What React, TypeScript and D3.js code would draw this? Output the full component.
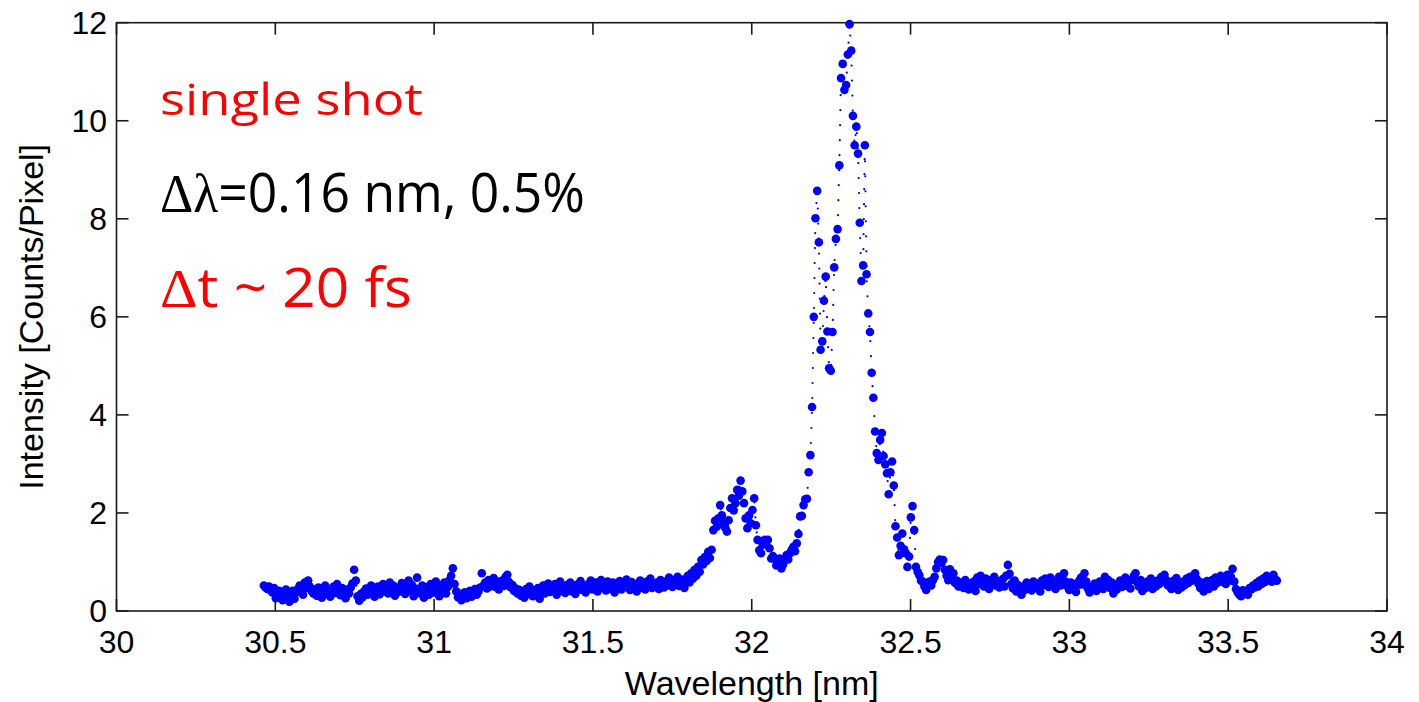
import React from 'react';
import * as d3 from 'd3';

// Sampling grid of the spectrometer (nm)
const wavelengthStart = 30.464;
const wavelengthStep = 0.00536;

// Intensity [Counts/Pixel], in order of wavelength
const intensityLeftBase: number[] = [
  0.52, 0.48, 0.45, 0.50, 0.42, 0.38, 0.47, 0.26, 0.33, 0.41,
  0.30, 0.22, 0.36, 0.44, 0.28, 0.19, 0.35, 0.41, 0.25, 0.38,
  0.45, 0.52, 0.40, 0.33, 0.58, 0.47, 0.62, 0.50, 0.41, 0.36,
  0.44, 0.31, 0.48, 0.38, 0.27, 0.42, 0.52, 0.35, 0.45, 0.29,
  0.40, 0.50, 0.37, 0.55, 0.43, 0.32, 0.47, 0.39, 0.26, 0.44,
  0.36, 0.48, 0.56, 0.84, 0.62, 0.30, 0.21, 0.35, 0.28, 0.40,
  0.46, 0.33, 0.41, 0.52, 0.37, 0.29, 0.45, 0.50, 0.34, 0.42,
  0.55, 0.40, 0.48, 0.36, 0.58, 0.44, 0.52, 0.31, 0.47, 0.39,
  0.49, 0.57, 0.43, 0.35, 0.50, 0.62, 0.41, 0.53, 0.30, 0.46,
  0.68, 0.40, 0.36, 0.52, 0.27, 0.44, 0.49, 0.33, 0.55, 0.42,
  0.38, 0.60, 0.45, 0.30, 0.52, 0.41, 0.58, 0.36, 0.49, 0.63,
  0.72, 0.87, 0.55, 0.40, 0.28, 0.35, 0.22, 0.31, 0.38, 0.26,
  0.34, 0.41, 0.29, 0.37, 0.45, 0.33, 0.40, 0.48, 0.77, 0.52,
  0.58, 0.46, 0.63, 0.50, 0.55, 0.67, 0.49, 0.60, 0.44, 0.57,
  0.62, 0.51, 0.70, 0.74, 0.59, 0.48, 0.53, 0.41, 0.46, 0.36,
  0.43, 0.31, 0.39, 0.27, 0.45, 0.35, 0.50, 0.38, 0.30, 0.42,
  0.34, 0.47, 0.25, 0.40, 0.52, 0.36, 0.44, 0.56, 0.39, 0.48,
  0.42, 0.55, 0.33, 0.46, 0.60, 0.41, 0.50, 0.37, 0.53, 0.45,
  0.58, 0.40, 0.49, 0.35, 0.54, 0.46, 0.61, 0.43, 0.52, 0.38,
  0.47, 0.56, 0.62, 0.44, 0.51, 0.58, 0.40, 0.53, 0.63, 0.48,
  0.55, 0.42, 0.60, 0.50, 0.45, 0.58, 0.38, 0.52, 0.47, 0.61,
  0.44, 0.56, 0.49, 0.64, 0.51, 0.43, 0.59, 0.46, 0.55, 0.40,
  0.53, 0.62, 0.48, 0.57, 0.44, 0.60, 0.52, 0.66, 0.47, 0.55,
  0.50, 0.58, 0.45, 0.63, 0.54, 0.48, 0.60, 0.52, 0.68, 0.56,
  0.49, 0.62, 0.55, 0.70, 0.51, 0.58, 0.64, 0.47, 0.60, 0.72,
];

const intensitySidePeak: number[] = [
  0.58, 0.77, 0.66, 0.84, 0.72, 0.90, 0.80, 1.04, 0.95, 1.10,
  1.02, 1.21, 1.08, 1.25, 1.65, 1.84, 1.72, 1.89, 2.16, 1.95,
  1.79, 1.70, 1.62, 1.85, 2.10, 2.30, 2.05, 2.20, 2.47, 2.35,
  2.66, 2.44, 2.20, 1.89, 1.69, 1.95, 1.79, 2.06, 2.30, 1.75,
  1.45, 1.24, 1.18, 1.35, 1.45, 1.40, 1.45, 1.28, 1.07, 1.12,
  1.07, 0.93, 0.97, 1.07, 0.87, 0.95, 1.05, 1.14, 1.05, 1.18,
  1.25, 1.31, 1.22, 1.38, 1.57, 1.93, 1.94, 2.16, 2.28, 2.29,
];

const intensityMainPeak: number[] = [
  2.83, 3.18, 4.16, 6.00, 8.01, 8.57, 7.52, 5.33, 5.50, 6.33,
  6.82, 5.70, 4.95, 4.90, 5.69, 7.01, 7.59, 7.79, 9.09, 10.87,
  11.16, 10.63, 10.73, 11.35, 11.97, 11.43, 10.10, 9.50, 9.88, 9.33,
  7.92, 6.73, 7.05, 9.50, 6.87, 6.07, 5.69, 4.86, 4.35, 3.66,
  3.22, 3.08, 3.49, 3.63, 3.16, 2.99, 2.81, 2.38, 2.83, 3.05,
  2.56, 1.73, 1.50, 1.14, 1.33, 1.58, 1.26, 1.18, 0.90, 1.11,
  1.91, 2.14, 1.65, 0.90, 0.80, 0.73, 0.62, 0.60, 0.50, 0.43,
  0.55, 0.60, 0.52, 0.63, 0.70, 0.87, 1.00, 1.05, 0.98, 1.04,
  0.84, 0.72, 0.63, 0.85, 0.70, 0.77, 0.57, 0.62, 0.50, 0.55,
];

const intensityRightBase: number[] = [
  0.58, 0.47, 0.63, 0.52, 0.44, 0.56, 0.49, 0.60, 0.41, 0.68,
  0.55, 0.72, 0.61, 0.50, 0.66, 0.58, 0.45, 0.63, 0.54, 0.70,
  0.52, 0.60, 0.48, 0.57, 0.65, 0.50, 0.72, 0.94, 0.76, 0.55,
  0.46, 0.62, 0.40, 0.53, 0.45, 0.33, 0.50, 0.43, 0.58, 0.48,
  0.55, 0.42, 0.60, 0.51, 0.47, 0.56, 0.40, 0.62, 0.53, 0.66,
  0.58, 0.49, 0.68, 0.55, 0.61, 0.45, 0.57, 0.70, 0.52, 0.64,
  0.77, 0.60, 0.50, 0.43, 0.58, 0.47, 0.55, 0.39, 0.52, 0.62,
  0.68, 0.54, 0.77, 0.60, 0.46, 0.38, 0.50, 0.44, 0.56, 0.41,
  0.48, 0.60, 0.52, 0.45, 0.70, 0.55, 0.63, 0.47, 0.58, 0.36,
  0.50, 0.44, 0.57, 0.62, 0.49, 0.55, 0.68, 0.51, 0.60, 0.46,
  0.64, 0.72, 0.77, 0.58, 0.50, 0.63, 0.41, 0.55, 0.47, 0.60,
  0.52, 0.66, 0.45, 0.58, 0.50, 0.62, 0.55, 0.69, 0.60, 0.74,
  0.63, 0.52, 0.58, 0.45, 0.61, 0.50, 0.67, 0.43, 0.56, 0.48,
  0.60, 0.53, 0.66, 0.57, 0.70, 0.62, 0.72, 0.77, 0.65, 0.55,
  0.47, 0.58, 0.40, 0.52, 0.61, 0.45, 0.56, 0.63, 0.50, 0.68,
  0.57, 0.65, 0.72, 0.60, 0.68, 0.55, 0.74, 0.62, 0.70, 0.86,
  0.60, 0.45, 0.38, 0.33, 0.30, 0.42, 0.36, 0.40, 0.33, 0.47,
  0.44, 0.52, 0.48, 0.57, 0.50, 0.62, 0.55, 0.66, 0.59, 0.72,
  0.63, 0.68, 0.60, 0.74, 0.65, 0.62,
];

const intensity: number[] = [
  ...intensityLeftBase,
  ...intensitySidePeak,
  ...intensityMainPeak,
  ...intensityRightBase,
];

const xTicks = [30, 30.5, 31, 31.5, 32, 32.5, 33, 33.5, 34];
const yTicks = [0, 2, 4, 6, 8, 10, 12];
const xDomain: [number, number] = [30, 34];
const yDomain: [number, number] = [0, 12];

const xLabel = 'Wavelength [nm]';
const yLabel = 'Intensity [Counts/Pixel]';

const W = 1419;
const H = 702;
const margin = { left: 116.5, right: W - 1387, top: 22.7, bottom: H - 611 };

const axisFont = "'Liberation Sans', Arial, Helvetica, sans-serif";
const comicFont = "'Comic Sans MS', 'Open Sans', sans-serif";
const greekFont = "'Liberation Serif', 'DejaVu Serif', serif";

export default function App() {
  const x = d3.scaleLinear().domain(xDomain).range([margin.left, W - margin.right]);
  const y = d3.scaleLinear().domain(yDomain).range([H - margin.bottom, margin.top]);

  const points = intensity.map((v, i) => ({ wl: wavelengthStart + i * wavelengthStep, v }));
  const line = d3
    .line<{ wl: number; v: number }>()
    .x((d) => x(d.wl))
    .y((d) => y(d.v));

  const x0 = x(xDomain[0]);
  const x1 = x(xDomain[1]);
  const y0 = y(yDomain[0]);
  const y1 = y(yDomain[1]);
  const tickLen = 12;
  const axisColor = '#1a1a1a';

  return (
    <svg
      width={W}
      height={H}
      style={{ position: 'absolute', left: 0, top: 0, background: '#fff' }}
    >
      <rect x={0} y={0} width={W} height={H} fill="#fff" />
      {/* axes box */}
      <rect x={x0} y={y1} width={x1 - x0} height={y0 - y1} fill="none" stroke={axisColor} strokeWidth={1.6} />
      {/* x ticks */}
      {xTicks.map((t) => (
        <g key={'xt' + t}>
          <line x1={x(t)} x2={x(t)} y1={y0} y2={y0 - tickLen} stroke={axisColor} strokeWidth={1.6} />
          <line x1={x(t)} x2={x(t)} y1={y1} y2={y1 + tickLen} stroke={axisColor} strokeWidth={1.6} />
          <text
            x={x(t)}
            y={652.5}
            textAnchor="middle"
            fontFamily={axisFont}
            fontSize={32}
            fill="#000"
          >
            {String(t)}
          </text>
        </g>
      ))}
      {/* y ticks */}
      {yTicks.map((t) => (
        <g key={'yt' + t}>
          <line x1={x0} x2={x0 + tickLen} y1={y(t)} y2={y(t)} stroke={axisColor} strokeWidth={1.6} />
          <line x1={x1} x2={x1 - tickLen} y1={y(t)} y2={y(t)} stroke={axisColor} strokeWidth={1.6} />
          <text
            x={107}
            y={y(t) + 11.4}
            textAnchor="end"
            fontFamily={axisFont}
            fontSize={32}
            fill="#000"
          >
            {String(t)}
          </text>
        </g>
      ))}
      {/* axis labels */}
      <text
        x={(x0 + x1) / 2}
        y={695}
        textAnchor="middle"
        fontFamily={axisFont}
        fontSize={34}
        fill="#000"
      >
        {xLabel}
      </text>
      <text
        transform={`translate(43.3, ${(y0 + y1) / 2}) rotate(-90)`}
        textAnchor="middle"
        fontFamily={axisFont}
        fontSize={34}
        fill="#000"
      >
        {yLabel}
      </text>

      {/* dotted connecting line */}
      <path
        d={line(points) || ''}
        fill="none"
        stroke="#0000ff"
        strokeWidth={2.2}
        strokeLinecap="round"
        strokeDasharray="0 15"
      />
      {/* markers */}
      {points.map((p, i) => (
        <circle key={i} cx={x(p.wl)} cy={y(p.v)} r={4.3} fill="#0000ff" />
      ))}

      {/* annotations */}
      <text x={160} y={115} fontFamily={comicFont} fontSize={44} fill="#ff0000" textLength={263} lengthAdjust="spacingAndGlyphs">
        single shot
      </text>
      <text x={160} y={212} fontFamily={comicFont} fontSize={54} fill="#000" textLength={425} lengthAdjust="spacingAndGlyphs">
        <tspan fontFamily={greekFont}>Δλ</tspan>=0.16 nm, 0.5%
      </text>
      <text x={160} y={307} fontFamily={comicFont} fontSize={54} fill="#ff0000" textLength={252} lengthAdjust="spacingAndGlyphs">
        <tspan fontFamily={greekFont}>Δ</tspan>t ~ 20 fs
      </text>
    </svg>
  );
}
